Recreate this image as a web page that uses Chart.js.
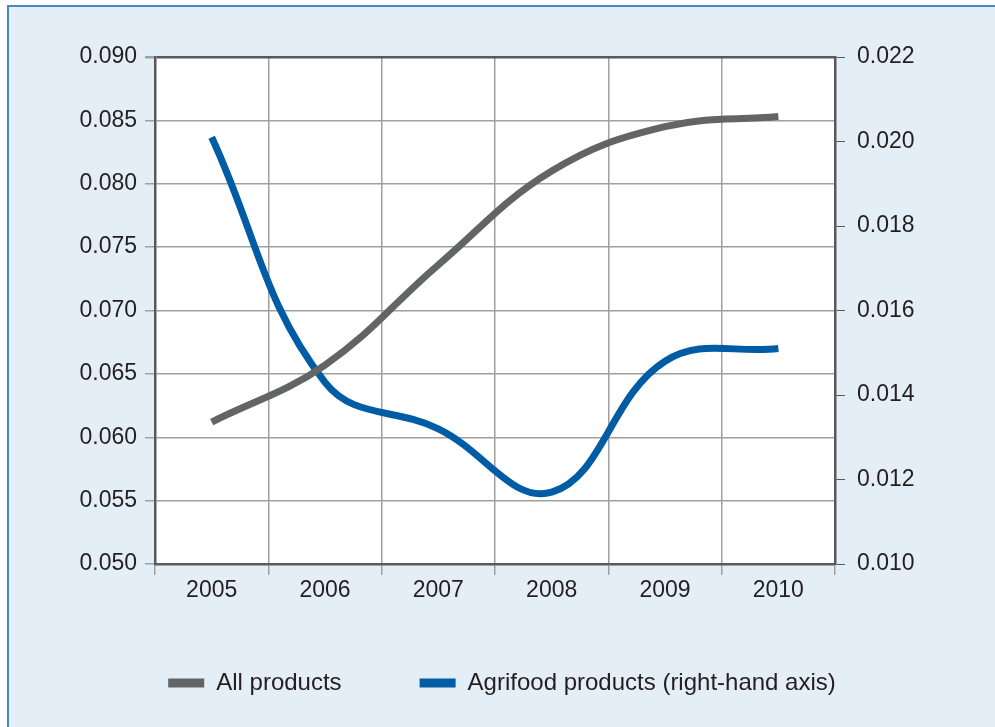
<!DOCTYPE html>
<html>
<head>
<meta charset="utf-8">
<script src="https://cdn.jsdelivr.net/npm/chart.js@4.4.1/dist/chart.umd.min.js"></script>
<style>
  body { margin: 0; background: #ffffff; }
  #panel {
    position: absolute; left: 7px; top: 5px; width: 988px; height: 722px;
    background: #e4eef6; border-top: 2px solid #4a86bf; border-left: 2px solid #4a86bf;
  }
  #grafico { position: absolute; left: 0; top: 0; }
</style>
</head>
<body>
<div id="panel"></div>
<canvas id="grafico" width="995" height="727"></canvas>
<script>
// Datos
const years = ['2005', '2006', '2007', '2008', '2009', '2010'];
const allProducts = [0.0612, 0.0657, 0.0736, 0.0810, 0.0845, 0.0853];
const agrifood = [0.0201, 0.0143, 0.0132, 0.0117, 0.0148, 0.0151];
const leftTicks = [0.050, 0.055, 0.060, 0.065, 0.070, 0.075, 0.080, 0.085, 0.090];
const rightTicks = [0.010, 0.012, 0.014, 0.016, 0.018, 0.020, 0.022];

const fuente = "'Liberation Sans', Arial, sans-serif";
const textColor = '#231f20';
const gridColor = '#a0a0a0';
const axisColor = '#58595b';

// Fondo blanco del área de trazado
const fondoBlanco = {
    id: 'fondoBlanco',
    beforeDraw(chart) {
        const a = chart.chartArea;
        const ctx = chart.ctx;
        ctx.save();
        ctx.fillStyle = '#ffffff';
        ctx.fillRect(a.left, a.top, a.right - a.left, a.bottom - a.top);
        ctx.restore();
    }
};

// Leyenda inferior dibujada a mano (separación amplia entre elementos)
const leyenda = {
    id: 'leyenda',
    afterDraw(chart) {
        const ctx = chart.ctx;
        const caja = 36, hueco = 12, separacion = 78, y = 683;
        ctx.save();
        ctx.font = '24px ' + fuente;
        ctx.textBaseline = 'middle';
        const items = chart.data.datasets.map(ds => ({
            texto: ds.label, color: ds.borderColor, ancho: ctx.measureText(ds.label).width
        }));
        let total = items.reduce((s, it) => s + caja + hueco + it.ancho, 0) + separacion * (items.length - 1);
        let x = 502 - total / 2;
        items.forEach(it => {
            ctx.fillStyle = it.color;
            ctx.fillRect(x, y - 4.5, caja, 9);
            ctx.fillStyle = textColor;
            ctx.fillText(it.texto, x + caja + hueco, y);
            x += caja + hueco + it.ancho + separacion;
        });
        ctx.restore();
    }
};

const ctx = document.getElementById('grafico').getContext('2d');
new Chart(ctx, {
    type: 'line',
    data: {
        labels: years,
        datasets: [{
            label: 'All products',
            data: allProducts,
            yAxisID: 'y',
            borderColor: '#636466',
            backgroundColor: '#636466',
            borderWidth: 7,
            borderCapStyle: 'butt',
            pointRadius: 0,
            tension: 0.4
        }, {
            label: 'Agrifood products (right-hand axis)',
            data: agrifood,
            yAxisID: 'y1',
            borderColor: '#005ca5',
            backgroundColor: '#005ca5',
            borderWidth: 7,
            borderCapStyle: 'butt',
            pointRadius: 0,
            tension: 0.4
        }]
    },
    options: {
        responsive: false,
        animation: false,
        layout: { padding: { top: 57, bottom: 103 } },
        plugins: {
            tooltip: { enabled: false },
            legend: { display: false }
        },
        scales: {
            x: {
                offset: true,
                grid: { offset: true, color: gridColor, lineWidth: 1.5, tickColor: gridColor, tickLength: 11 },
                border: { color: axisColor, width: 2.5 },
                ticks: { color: textColor, font: { family: fuente, size: 23 }, padding: 2 },
                afterFit(scale) { scale.height = 60; }
            },
            y: {
                position: 'left',
                min: 0.050,
                max: 0.090,
                afterBuildTicks(scale) { scale.ticks = leftTicks.map(v => ({ value: v })); },
                grid: {
                    color: c => c.index === leftTicks.length - 1 ? axisColor : gridColor,
                    lineWidth: c => c.index === leftTicks.length - 1 ? 2.5 : 1.5,
                    tickColor: gridColor,
                    tickLength: 10
                },
                border: { color: axisColor, width: 2.5 },
                ticks: {
                    color: textColor, font: { family: fuente, size: 23 }, padding: 8,
                    callback: v => v.toFixed(3)
                },
                afterFit(scale) { scale.width = 155; }
            },
            y1: {
                position: 'right',
                min: 0.010,
                max: 0.022,
                afterBuildTicks(scale) { scale.ticks = rightTicks.map(v => ({ value: v })); },
                grid: { drawOnChartArea: false, tickColor: axisColor, tickLength: 10 },
                border: { color: axisColor, width: 2.5 },
                ticks: {
                    color: textColor, font: { family: fuente, size: 23 }, padding: 12,
                    callback: v => v.toFixed(3)
                },
                afterFit(scale) { scale.width = 160; }
            }
        }
    },
    plugins: [fondoBlanco, leyenda]
});
</script>
</body>
</html>
